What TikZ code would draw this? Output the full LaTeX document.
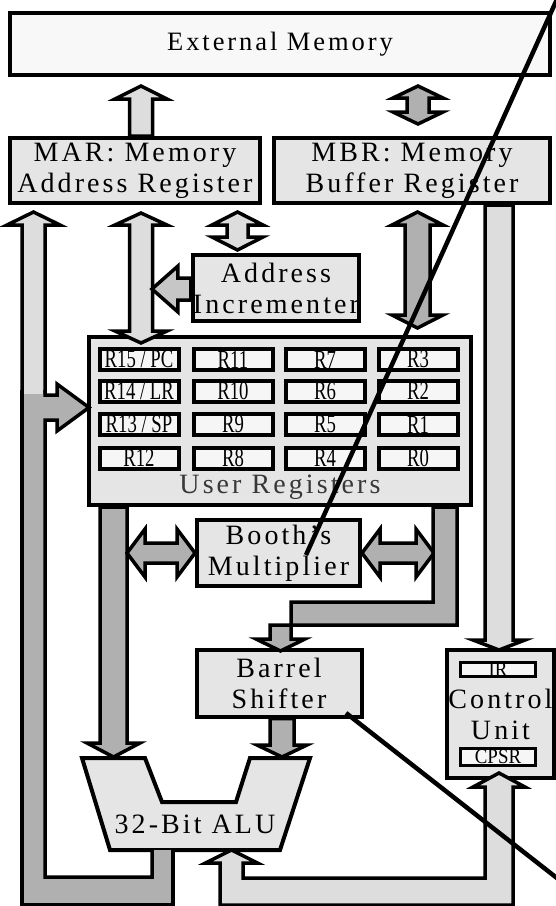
\documentclass[tikz,border=0pt]{standalone}
\usepackage{fontspec}
\setmainfont{Liberation Serif}[LetterSpace=11]
\newfontfamily\regfont{Liberation Serif}[FakeStretch=0.72]
\newfontfamily\flagfont{Liberation Serif}[FakeStretch=0.9]
\usetikzlibrary{calc}

\definecolor{memfill}{HTML}{F8F8F8}
\definecolor{boxfill}{HTML}{E5E5E5}
\definecolor{regfill}{HTML}{F6F6F6}
\definecolor{lightbus}{HTML}{DDDDDD}
\definecolor{midbus}{HTML}{C6C6C6}
\definecolor{darkbus}{HTML}{B0B0B0}
\definecolor{inkgray}{HTML}{383838}

% sizes of the block arrows (half widths and head length)
\tikzset{
    shaft/.store in=\shaftw, tiplen/.store in=\tiplen, tipwid/.store in=\tipwid,
    shaft=11.5pt, tiplen=12pt, tipwid=26pt
}

\begin{document}
\begin{tikzpicture}[x=1pt, y=-1pt,
    unit/.style={draw=black, line width=4pt, fill=boxfill, align=center, inner sep=0pt,
                 font=\fontsize{28}{31}\selectfont},
    reg/.style={draw=black, line width=4pt, fill=regfill, inner sep=0pt,
                minimum width=79pt, minimum height=21pt, font=\regfont\fontsize{26}{26}\selectfont},
    flag/.style={draw=black, line width=3pt, fill=regfill, inner sep=0pt,
                 minimum width=75pt, font=\flagfont\fontsize{21}{21}\selectfont},
    bus/.style={draw=black, line width=3.5pt, line join=miter, fill=#1},
    onehead/.style={to path={
        let \p1=(\tikztostart), \p2=(\tikztotarget), \n1={atan2(\y2-\y1,\x2-\x1)} in
        ($(\p1)+(\n1+90:\shaftw)$)
        -- ($(\p2)+(\n1+180:\tiplen)+(\n1+90:\shaftw)$)
        -- ($(\p2)+(\n1+180:\tiplen)+(\n1+90:\tipwid)$)
        -- (\p2)
        -- ($(\p2)+(\n1+180:\tiplen)+(\n1-90:\tipwid)$)
        -- ($(\p2)+(\n1+180:\tiplen)+(\n1-90:\shaftw)$)
        -- ($(\p1)+(\n1-90:\shaftw)$) -- cycle}},
    twohead/.style={to path={
        let \p1=(\tikztostart), \p2=(\tikztotarget), \n1={atan2(\y2-\y1,\x2-\x1)} in
        (\p1)
        -- ($(\p1)+(\n1:\tiplen)+(\n1+90:\tipwid)$)
        -- ($(\p1)+(\n1:\tiplen)+(\n1+90:\shaftw)$)
        -- ($(\p2)+(\n1+180:\tiplen)+(\n1+90:\shaftw)$)
        -- ($(\p2)+(\n1+180:\tiplen)+(\n1+90:\tipwid)$)
        -- (\p2)
        -- ($(\p2)+(\n1+180:\tiplen)+(\n1-90:\tipwid)$)
        -- ($(\p2)+(\n1+180:\tiplen)+(\n1-90:\shaftw)$)
        -- ($(\p1)+(\n1:\tiplen)+(\n1-90:\shaftw)$)
        -- ($(\p1)+(\n1:\tiplen)+(\n1-90:\tipwid)$) -- cycle}},
    pointer/.style={line width=4.5pt}
]
    \useasboundingbox (0,0) rectangle (556,906);

    % Memory and its registers
    \node[unit, fill=memfill, minimum width=540pt, minimum height=62pt,
          font=\fontsize{26.5}{31}\selectfont] (mem) at (280,44) {External Memory};
    \node[unit, minimum width=250pt, minimum height=65pt] (mar) at (135,170.5) {MAR: Memory\\Address Register};
    \node[unit, minimum width=276pt, minimum height=65pt] (mbr) at (412,170.5) {MBR: Memory\\Buffer Register};
    \node[unit, minimum width=164pt, minimum height=66pt] (addr) at (276,288) {Address\\Incrementer};

    % Register bank
    \node[unit, minimum width=382pt, minimum height=168pt] (regs) at (280,421) {};
    \node[reg] (r15) at (139,359.5) {R15 / PC};
    \node[reg] (r11) at (233,359.5) {R11};
    \node[reg] (r7)  at (325,359.5) {R7};
    \node[reg] (r3)  at (418,359.5) {R3};
    \node[reg] (r14) at (139,391) {R14 / LR};
    \node[reg] (r10) at (233,391) {R10};
    \node[reg] (r6)  at (325,391) {R6};
    \node[reg] (r2)  at (418,391) {R2};
    \node[reg] (r13) at (139,424.5) {R13 / SP};
    \node[reg] (r9)  at (233,424.5) {R9};
    \node[reg] (r5)  at (325,424.5) {R5};
    \node[reg] (r1)  at (418,424.5) {R1};
    \node[reg] (r12) at (139,458) {R12};
    \node[reg] (r8)  at (233,458) {R8};
    \node[reg] (r4)  at (325,458) {R4};
    \node[reg] (r0)  at (418,458) {R0};
    \node[font=\fontsize{28}{31}\selectfont, text=inkgray] (regtitle) at (280,487) {User Registers};

    % Datapath
    \node[unit, minimum width=163pt, minimum height=66pt] (booth) at (278.5,553) {Booth's\\Multiplier};
    \node[unit, minimum width=165pt, minimum height=67pt] (barrel) at (279,683) {Barrel\\Shifter};
    \node[unit, minimum width=107pt, minimum height=128pt] (cu) at (500.5,714) {Control\\Unit};
    \node[flag, minimum height=14pt] (ir) at (498,669.5) {IR};
    \node[flag, minimum height=17pt] (cpsr) at (498,757) {CPSR};

    % ALU
    \draw[line width=4pt, line join=miter, fill=boxfill]
        (82,758) -- (145,758) -- (162,802) -- (236,802) -- (250,758)
        -- (310,758) -- (280,850) -- (110,850) -- cycle;
    \node[font=\fontsize{28}{31}\selectfont] (alu) at (195,824) {32-Bit ALU};
    \coordinate (aluinA) at (113.5,757);
    \coordinate (aluinB) at (282,757);
    \coordinate (aluflag) at (231.5,850);
    \coordinate (junc) at (33.5,396);

    % Buses to memory
    \draw[bus=lightbus, onehead, tiplen=13pt] ($(mar.north)+(6,0)$) to ($(mar.north |- mem.south)+(6,9)$);
    \draw[bus=darkbus, twohead, tipwid=25pt, shaft=11pt] ($(mbr.north |- mem.south)+(6,9)$) to ($(mbr.north)+(6,-12)$);

    % Address side
    \draw[bus=lightbus, twohead] ($(mar.south)+(6,8)$) to ($(mar.south |- regs.north)+(6,8)$);
    \draw[bus=lightbus, twohead, tiplen=13pt, tipwid=25.5pt, shaft=10.5pt] ($(addr.north |- mar.south)+(-38.5,7)$) to ($(addr.north)+(-38.5,-3)$);
    \draw[bus=midbus, onehead, tiplen=26pt, tipwid=23pt, shaft=11pt] ($(addr.west)+(0,1)$) to ($(addr.west)+(-39,1)$);

    % Data side
    \draw[bus=darkbus, twohead, tiplen=13pt, tipwid=25.5pt, shaft=12.5pt] ($(mbr.south)+(5.5,7)$) to ($(mbr.south |- regs.north)+(5.5,-7)$);
    \draw[bus=lightbus, onehead, tiplen=10pt, shaft=14pt] ($(cu.north |- mbr.south)+(-1.5,0)$) to ($(cu.north)+(-1.5,2)$);

    % Registers to ALU, multiplier and shifter
    \draw[bus=darkbus, onehead, tiplen=14pt, tipwid=26.5pt, shaft=13.5pt] ($(regs.south)+(-166.5,0)$) to (aluinA);
    \draw[bus=darkbus, twohead, tiplen=18pt, tipwid=24pt, shaft=10pt] ($(booth.west)+(-68,0)$) to (booth.west);
    \draw[bus=darkbus, twohead, tiplen=18pt, tipwid=24pt, shaft=10pt] (booth.east) to ($(booth.east)+(72,0)$);
    \draw[bus=darkbus] ($(regs.south)+(153,0)$) -- ++(0,95) -- ++(-142,0) -- ++(0,37) -- ++(14,0)
        -- ++(-24.5,12) -- ++(-24.5,-12) -- ++(14,0) -- ++(0,-14) -- ++(187,0) -- ++(0,-118) -- cycle;
    \draw[bus=darkbus, onehead, tipwid=25pt, shaft=12pt] ($(barrel.south)+(3,0)$) to (aluinB);

    % ALU result back to the registers and the MAR
    \draw[bus=lightbus, onehead, tiplen=13pt, tipwid=26.5pt] (junc) to ($(mar.south -| junc)+(0,7)$);
    \fill[darkbus] (22,394) -- (45,394) -- (45,395) -- (57,395) -- (57,384) -- (89,407.5)
        -- (57,431) -- (57,420) -- (45,420) -- (45,877) -- (152,877) -- (152,850)
        -- (173,850) -- (173,905) -- (22,905) -- cycle;
    \draw[line width=3.5pt, line join=miter] (22,390) -- (22,905) -- (173,905) -- (173,850);
    \draw[line width=3.5pt, line join=miter] (45,390) -- (45,395) -- (57,395) -- (57,384) -- (89,407.5)
        -- (57,431) -- (57,420) -- (45,420) -- (45,877) -- (152,877) -- (152,850);

    % ALU <-> control unit
    \draw[bus=lightbus] (aluflag) -- ++(26,13) -- ++(-14.5,0) -- ++(0,15) -- ++(242,0) -- ++(0,-91)
        -- ++(-12,0) -- ++(26,-14) -- ++(26,14) -- ++(-12,0) -- ++(0,118) -- ++(-293,0)
        -- ++(0,-42) -- ++(-14.5,0) -- cycle;

    % Pointer lines
    \coordinate (ptrtop) at (558,-3);
    \coordinate (ptrbot) at (562,882);
    \draw[pointer] (ptrtop) -- ($(booth.center)+(27.5,2)$);
    \draw[pointer] ($(barrel.center)+(67,30)$) -- (ptrbot);
\end{tikzpicture}
\end{document}
